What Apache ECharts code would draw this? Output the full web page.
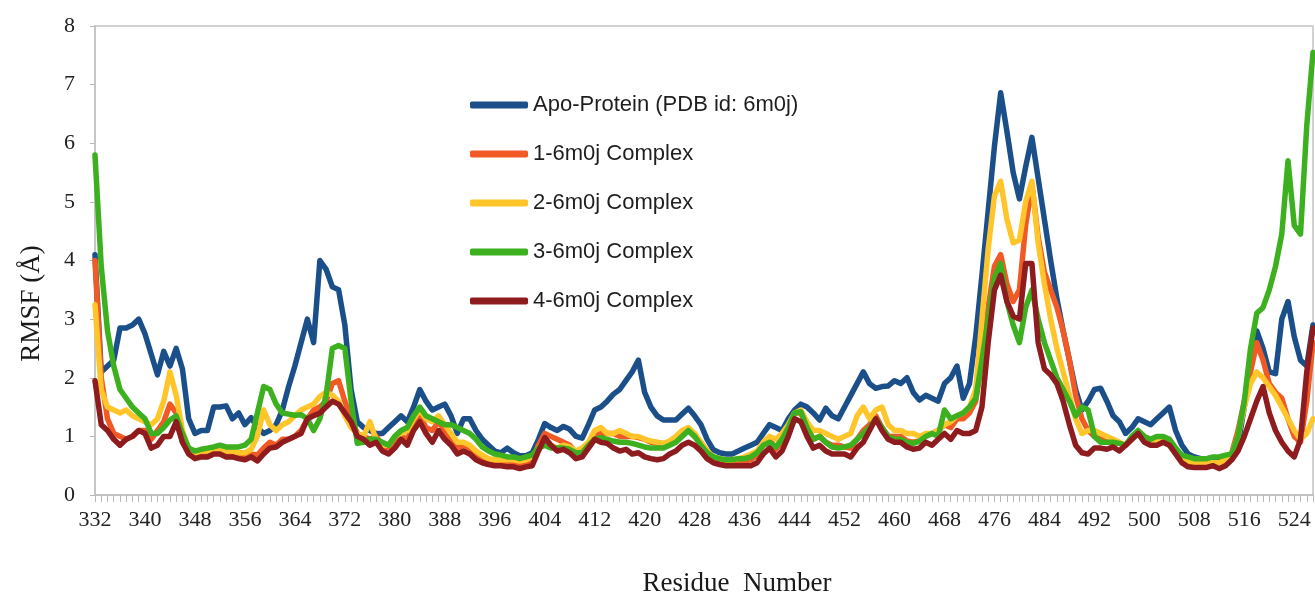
<!DOCTYPE html>
<html>
<head>
<meta charset="utf-8">
<script src="https://cdn.jsdelivr.net/npm/echarts@6/dist/echarts.min.js"></script>
<style>
html,body{margin:0;padding:0;background:#fff;}
#chart{width:1315px;height:595px;}
</style>
</head>
<body>
<div id="chart"></div>
<script>
// Residue numbers 332..527
const residues = [];
for (let r = 332; r <= 527; r++) residues.push(String(r));

const seriesNames = [
  'Apo-Protein (PDB id: 6m0j)',
  '1-6m0j Complex',
  '2-6m0j Complex',
  '3-6m0j Complex',
  '4-6m0j Complex'
];

const apo = [
  4.1, 2.1, 2.2, 2.3, 2.85, 2.85, 2.9, 3.0, 2.75, 2.4,
  2.05, 2.45, 2.2, 2.5, 2.15, 1.3, 1.05, 1.1, 1.1, 1.5,
  1.5, 1.52, 1.3, 1.4, 1.2, 1.32, 1.15, 1.05, 1.1, 1.2,
  1.45, 1.85, 2.2, 2.6, 3.0, 2.6, 4.0, 3.85, 3.55, 3.5,
  2.9, 1.8, 1.25, 1.15, 1.1, 1.05, 1.05, 1.15, 1.25, 1.35,
  1.25, 1.5, 1.8, 1.6, 1.45, 1.5, 1.55, 1.35, 1.05, 1.3,
  1.3, 1.1, 0.95, 0.85, 0.75, 0.72, 0.8, 0.72, 0.67, 0.67,
  0.72, 0.95, 1.22, 1.15, 1.1, 1.17, 1.12, 1.0, 0.97, 1.2,
  1.45, 1.5, 1.6, 1.72, 1.8, 1.95, 2.1, 2.3, 1.75, 1.5,
  1.35, 1.28, 1.28, 1.28, 1.38, 1.48, 1.35, 1.2, 0.95, 0.77,
  0.72, 0.7, 0.7, 0.75, 0.8, 0.85, 0.9, 1.05, 1.2, 1.15,
  1.1, 1.3, 1.45, 1.55, 1.5, 1.4, 1.28, 1.48, 1.35, 1.3,
  1.5, 1.7, 1.9, 2.1, 1.9, 1.82, 1.85, 1.86, 1.95, 1.9,
  2.0, 1.75, 1.62, 1.7, 1.65, 1.6, 1.9, 2.0, 2.2, 1.65,
  1.9, 2.7, 3.75, 4.85, 5.95, 6.86, 6.2, 5.5, 5.05, 5.6,
  6.1, 5.4, 4.7, 4.0, 3.35, 2.8, 2.3, 1.8, 1.45, 1.6,
  1.8, 1.82, 1.6, 1.35, 1.25, 1.05, 1.15, 1.3, 1.25, 1.2,
  1.3, 1.4, 1.5, 1.1, 0.85, 0.7, 0.65, 0.62, 0.6, 0.6,
  0.62, 0.65, 0.7, 0.85, 1.5, 2.2, 2.8, 2.5, 2.1, 2.07,
  3.0, 3.3, 2.7, 2.3, 2.2, 2.9
];

const c1 = [
  4.0, 2.0, 1.3, 1.05, 1.0, 0.95, 1.0, 1.1, 1.1, 0.95,
  1.1, 1.25, 1.55, 1.4, 0.9, 0.75, 0.7, 0.7, 0.72, 0.72,
  0.72, 0.7, 0.7, 0.68, 0.68, 0.7, 0.68, 0.8, 0.9, 0.85,
  0.95, 0.95, 1.0, 1.1, 1.3, 1.45, 1.5, 1.6, 1.9, 1.95,
  1.6, 1.3, 1.05, 1.0, 0.95, 1.0, 0.85, 0.8, 0.95, 1.0,
  0.95, 1.2, 1.35, 1.15, 1.1, 1.25, 1.1, 0.95, 0.8, 0.85,
  0.8, 0.7, 0.62, 0.6, 0.55, 0.55, 0.55, 0.55, 0.52, 0.55,
  0.6, 0.85, 1.05, 1.0, 0.95, 0.9, 0.85, 0.72, 0.75, 0.85,
  1.0, 1.05, 1.05, 1.05, 1.0, 1.0, 1.0, 0.98, 0.95, 0.9,
  0.88, 0.85, 0.88, 0.95, 1.05, 1.1, 1.0, 0.9, 0.75, 0.65,
  0.6, 0.58, 0.58, 0.58, 0.58, 0.6, 0.68, 0.85, 0.95, 0.78,
  0.9, 1.15, 1.4, 1.4, 1.15, 0.95, 1.0, 0.9, 0.85, 0.85,
  0.82, 0.8, 0.95, 1.1, 1.2, 1.35, 1.15, 1.0, 1.0, 1.0,
  0.92, 0.9, 0.92, 1.0, 1.05, 1.1, 1.2, 1.15, 1.3, 1.3,
  1.4, 1.6, 2.3, 3.2, 3.9, 4.1, 3.6, 3.3, 3.5, 4.6,
  5.3, 4.4, 3.8, 3.5, 3.2, 2.8, 2.3, 1.7, 1.3, 1.1,
  1.0, 0.95, 0.9, 0.9, 0.88, 0.85, 0.95, 1.05, 0.95, 0.9,
  0.92, 0.95, 0.95, 0.8, 0.62, 0.55, 0.55, 0.55, 0.55, 0.55,
  0.55, 0.6, 0.72, 1.1, 1.6, 2.1, 2.6, 2.3, 1.9, 1.75,
  1.65, 1.3, 1.0, 0.9, 1.6, 2.6
];

const c2 = [
  3.25, 1.8, 1.5, 1.45, 1.4, 1.45, 1.35, 1.3, 1.25, 1.2,
  1.3, 1.6, 2.1, 1.7, 1.1, 0.78, 0.72, 0.75, 0.75, 0.78,
  0.78, 0.75, 0.75, 0.72, 0.72, 0.78, 1.0, 1.45, 1.2, 1.1,
  1.2, 1.25, 1.35, 1.45, 1.5, 1.55, 1.68, 1.75, 1.7, 1.6,
  1.35, 1.15, 1.05, 1.0, 1.25, 0.95, 0.85, 0.85, 1.0, 1.05,
  1.1, 1.3, 1.45, 1.3, 1.25, 1.35, 1.2, 1.05, 0.9, 0.9,
  0.85, 0.75, 0.68, 0.62, 0.6, 0.6, 0.6, 0.6, 0.58, 0.6,
  0.65, 0.8, 0.92, 0.85, 0.8, 0.85, 0.82, 0.75, 0.8, 0.9,
  1.1, 1.15, 1.05, 1.05, 1.1, 1.05, 1.0, 1.0, 0.95, 0.92,
  0.9, 0.88, 0.92, 1.0, 1.1, 1.15, 1.05, 0.9, 0.75, 0.65,
  0.62, 0.6, 0.6, 0.62, 0.65, 0.7, 0.75, 0.9, 1.0, 0.95,
  1.05, 1.2, 1.4, 1.45, 1.25, 1.1, 1.1, 1.05, 1.0, 0.95,
  1.0, 1.05, 1.35, 1.5, 1.3, 1.45, 1.5, 1.2, 1.1, 1.1,
  1.05, 1.05, 1.0, 1.05, 1.05, 1.1, 1.2, 1.25, 1.35, 1.4,
  1.5, 1.8, 3.0, 4.2, 5.1, 5.35, 4.7, 4.3, 4.35, 5.0,
  5.35, 4.3, 3.6, 3.0, 2.5, 2.1, 1.7, 1.3, 1.05, 1.1,
  1.1, 1.05, 1.0, 0.95, 0.9, 0.85, 0.95, 1.05, 0.95, 0.9,
  0.9, 0.95, 0.9, 0.8, 0.65, 0.58, 0.55, 0.55, 0.55, 0.55,
  0.55, 0.6, 0.7, 1.0, 1.5, 1.9, 2.1, 2.0, 1.85, 1.7,
  1.5, 1.3, 1.1, 0.95, 1.05, 1.3
];

const c3 = [
  5.8, 3.9, 2.8, 2.2, 1.8, 1.65, 1.5, 1.4, 1.3, 1.05,
  1.05, 1.15, 1.28, 1.35, 1.05, 0.8, 0.75, 0.78, 0.8, 0.82,
  0.85, 0.82, 0.82, 0.82, 0.85, 0.95, 1.4, 1.85, 1.8, 1.55,
  1.4, 1.38, 1.36, 1.37, 1.3, 1.1, 1.3, 1.7, 2.5, 2.55,
  2.5, 1.6, 0.88, 0.9, 0.95, 0.95, 0.9, 0.85, 1.0, 1.1,
  1.15, 1.35, 1.5, 1.35, 1.3, 1.25, 1.2, 1.2, 1.15, 1.1,
  1.05, 0.95, 0.82, 0.75, 0.7, 0.68, 0.65, 0.65, 0.62, 0.65,
  0.68, 0.8, 0.85, 0.8, 0.8, 0.8, 0.78, 0.72, 0.72, 0.85,
  0.95, 0.98, 0.95, 0.92, 0.9, 0.9, 0.88, 0.85, 0.82, 0.8,
  0.8, 0.8, 0.85, 0.9, 1.0, 1.1, 1.0, 0.85, 0.72, 0.65,
  0.62, 0.6, 0.6, 0.62, 0.62, 0.65, 0.72, 0.85, 0.9, 0.82,
  0.95, 1.15, 1.4, 1.42, 1.15, 0.95, 1.0, 0.9, 0.82, 0.8,
  0.82, 0.85, 0.95, 1.05, 1.15, 1.3, 1.15, 1.0, 0.95, 0.95,
  0.9, 0.88, 0.92, 1.0, 1.05, 1.0, 1.45, 1.3, 1.35, 1.4,
  1.5, 1.65, 2.3, 3.0, 3.7, 3.95, 3.3, 2.9, 2.6, 3.2,
  3.5, 3.0, 2.6, 2.3, 2.0, 1.8, 1.6, 1.35, 1.5, 1.45,
  1.0, 0.9, 0.9, 0.9, 0.88, 0.85, 1.0, 1.1, 1.0, 0.95,
  1.0, 1.0, 0.95, 0.8, 0.68, 0.65, 0.62, 0.62, 0.62, 0.65,
  0.65, 0.68, 0.7, 1.0, 1.6, 2.5, 3.1, 3.2, 3.5, 3.9,
  4.45, 5.7, 4.6, 4.45, 6.3, 7.55
];

const c4 = [
  1.95, 1.2, 1.1, 0.95, 0.85, 0.95, 1.0, 1.1, 1.05, 0.8,
  0.85, 1.0, 1.0, 1.25, 0.9, 0.7, 0.62, 0.65, 0.65, 0.7,
  0.7, 0.65, 0.65, 0.62, 0.6, 0.65, 0.58, 0.7, 0.8, 0.82,
  0.9, 0.95, 1.0, 1.05, 1.3, 1.35, 1.4, 1.5, 1.6, 1.55,
  1.4, 1.25, 1.0, 0.95, 0.85, 0.9, 0.75, 0.7, 0.8, 0.95,
  0.85, 1.1, 1.25, 1.05, 0.9, 1.1, 0.95, 0.85, 0.7, 0.75,
  0.7, 0.6, 0.55, 0.52, 0.5, 0.5, 0.48, 0.48, 0.45, 0.48,
  0.5, 0.75, 0.98, 0.85, 0.75, 0.78, 0.72, 0.62, 0.65, 0.8,
  0.95, 0.9, 0.88, 0.8, 0.75, 0.78, 0.7, 0.72, 0.65, 0.62,
  0.6, 0.62, 0.7, 0.75, 0.85, 0.9, 0.85, 0.75, 0.62, 0.55,
  0.52, 0.5, 0.5, 0.5, 0.5, 0.5, 0.55, 0.7, 0.8, 0.65,
  0.75, 1.0, 1.3, 1.25, 1.0, 0.8, 0.85, 0.75, 0.7, 0.7,
  0.7, 0.65, 0.8, 0.9, 1.1, 1.3, 1.1, 0.95, 0.9, 0.9,
  0.82, 0.78, 0.8, 0.9, 0.85, 0.95, 1.05, 0.95, 1.1, 1.05,
  1.05, 1.1, 1.5, 2.6, 3.5, 3.75, 3.3, 3.05, 3.0, 3.95,
  3.95, 2.6, 2.15, 2.05, 1.9, 1.6, 1.2, 0.85, 0.72, 0.7,
  0.8, 0.8, 0.78, 0.82, 0.75, 0.85, 0.95, 1.05, 0.9, 0.85,
  0.85, 0.9, 0.85, 0.7, 0.55, 0.48, 0.47, 0.47, 0.47, 0.5,
  0.45, 0.5, 0.6, 0.75, 1.0, 1.3, 1.6, 1.85, 1.4, 1.1,
  0.9, 0.75, 0.65, 0.95, 2.1, 2.85
];

const yTicks = { min: 0, max: 8, interval: 1 };
const colors = ['#1B4F8A', '#F15A24', '#FFC52B', '#3DB020', '#8E1B1E'];
const allData = [apo, c1, c2, c3, c4];

const chart = echarts.init(document.getElementById('chart'), null, { renderer: 'canvas' });

const option = {
  backgroundColor: '#ffffff',
  animation: false,
  color: colors,
  grid: {
    left: 95, right: 2, top: 26, bottom: 100,
    containLabel: false,
    outerBoundsMode: 'none',
    show: true, borderColor: '#c4c4c4', borderWidth: 1.5, backgroundColor: 'transparent'
  },
  legend: {
    orient: 'vertical',
    left: 470,
    top: 91,
    padding: 0,
    icon: 'roundRect',
    itemWidth: 58,
    itemHeight: 7,
    itemGap: 21,
    data: seriesNames,
    textStyle: {
      fontFamily: 'Liberation Sans, Arial, sans-serif',
      fontSize: 22,
      lineHeight: 28,
      color: '#1e1e1e'
    }
  },
  xAxis: {
    type: 'category',
    data: residues,
    boundaryGap: false,
    name: 'Residue  Number',
    nameLocation: 'middle',
    nameGap: 75,
    nameTextStyle: {
      fontFamily: 'Liberation Serif, Times New Roman, serif',
      fontSize: 27,
      color: '#1a1a1a',
      padding: [0, 0, 0, 66]
    },
    axisLine: { lineStyle: { color: '#c0c0c0', width: 1.5 } },
    axisTick: { show: true, interval: 0, length: 7, lineStyle: { color: '#b8b8b8', width: 1 } },
    axisLabel: {
      interval: 7,
      margin: 14,
      fontFamily: 'Liberation Serif, Times New Roman, serif',
      fontSize: 22,
      color: '#222'
    },
    splitLine: { show: false }
  },
  yAxis: {
    type: 'value',
    min: yTicks.min,
    max: yTicks.max,
    interval: yTicks.interval,
    name: 'RMSF (Å)',
    nameLocation: 'middle',
    nameGap: 50,
    nameRotate: 90,
    nameTextStyle: {
      fontFamily: 'Liberation Serif, Times New Roman, serif',
      fontSize: 27,
      color: '#1a1a1a',
      padding: [0, 86, 0, 0]
    },
    axisLine: { show: true, lineStyle: { color: '#c0c0c0', width: 1.5 } },
    axisTick: { show: true, length: 5, lineStyle: { color: '#b8b8b8' } },
    axisLabel: {
      margin: 20,
      fontFamily: 'Liberation Serif, Times New Roman, serif',
      fontSize: 22,
      color: '#222'
    },
    splitLine: { show: false }
  },
  series: seriesNames.map((name, i) => ({
    name: name,
    type: 'line',
    data: allData[i],
    showSymbol: false,
    symbol: 'none',
    lineStyle: { width: 5.5, color: colors[i], join: 'round', cap: 'round' },
    itemStyle: { color: colors[i] },
    z: 2 + i
  }))
};

chart.setOption(option);
</script>
</body>
</html>
